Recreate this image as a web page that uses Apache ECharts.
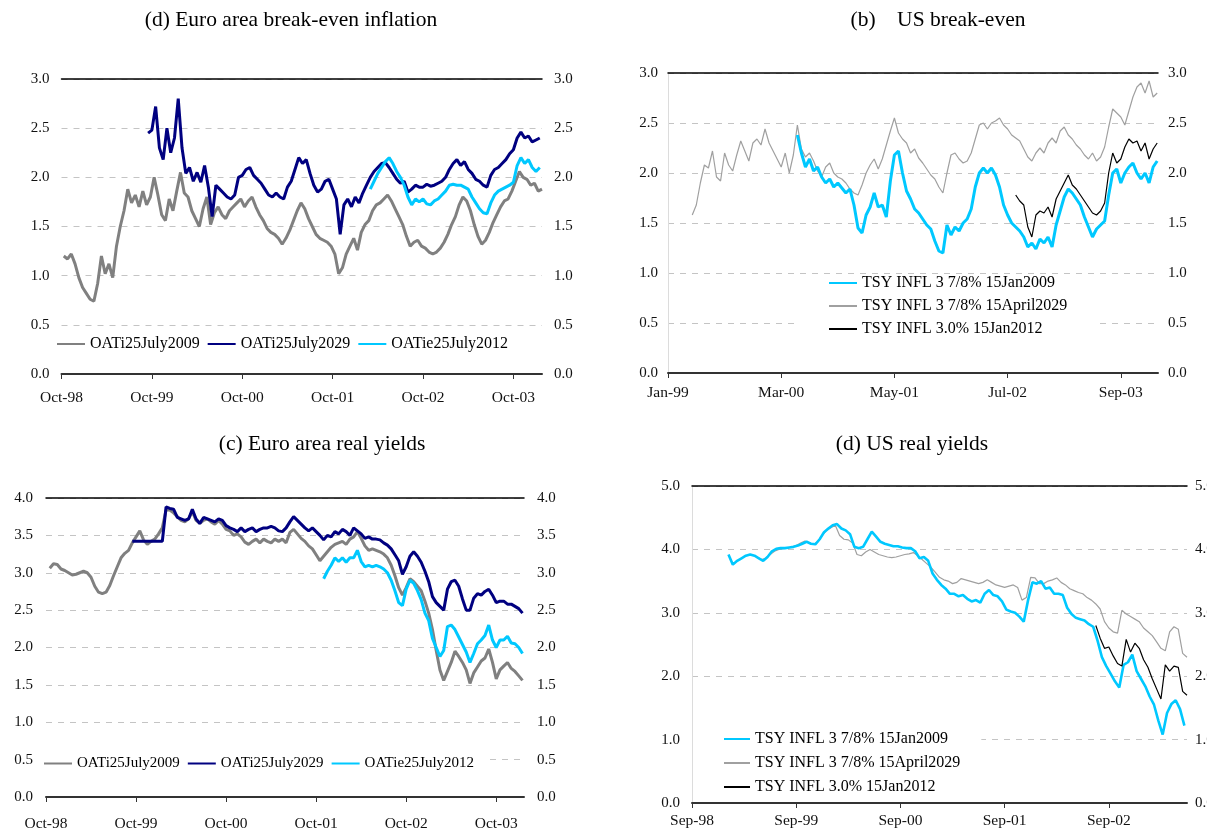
<!DOCTYPE html>
<html>
<head>
<meta charset="utf-8">
<title>Break-even inflation and real yields</title>
<script src="https://cdn.jsdelivr.net/npm/echarts@6/dist/echarts.min.js"></script>
<style>
  html, body { margin: 0; padding: 0; background: #fff; }
  #chart { width: 1207px; height: 836px; }
</style>
</head>
<body>
<div id="chart"></div>
<script>
  // x values are months from each panel's first tick, sampled every half month
  const STEP = 0.5;

  const ticksEuro = ['Oct-98', 'Oct-99', 'Oct-00', 'Oct-01', 'Oct-02', 'Oct-03'];
  const ticksUsBe = ['Jan-99', 'Mar-00', 'May-01', 'Jul-02', 'Sep-03'];
  const ticksUsRy = ['Sep-98', 'Sep-99', 'Sep-00', 'Sep-01', 'Sep-02'];

  const namesEuro = ['OATi25July2009', 'OATi25July2029', 'OATie25July2012'];
  const namesUs = ['TSY INFL 3 7/8% 15Jan2009', 'TSY INFL 3 7/8% 15April2029', 'TSY INFL 3.0% 15Jan2012'];

  // (d) Euro area break-even inflation
  const beOat09Start = 0.3;
  const beOat09 = [1.20, 1.17, 1.22, 1.12, 0.98, 0.88, 0.82, 0.76, 0.74, 0.92, 1.20, 1.02, 1.12, 0.98, 1.30, 1.50,
    1.66, 1.88, 1.74, 1.82, 1.70, 1.86, 1.72, 1.80, 2.00, 1.82, 1.62, 1.56, 1.78, 1.66, 1.86, 2.05, 1.84, 1.80,
    1.66, 1.58, 1.50, 1.68, 1.80, 1.52, 1.64, 1.70, 1.62, 1.58, 1.66, 1.70, 1.74, 1.78, 1.70, 1.76, 1.80, 1.70,
    1.62, 1.56, 1.48, 1.44, 1.42, 1.38, 1.32, 1.38, 1.46, 1.56, 1.66, 1.74, 1.68, 1.58, 1.50, 1.42, 1.38, 1.36,
    1.34, 1.30, 1.22, 1.02, 1.08, 1.22, 1.30, 1.38, 1.26, 1.44, 1.52, 1.56, 1.66, 1.72, 1.74, 1.78, 1.82, 1.76,
    1.68, 1.60, 1.52, 1.40, 1.30, 1.34, 1.36, 1.30, 1.28, 1.24, 1.22, 1.24, 1.28, 1.34, 1.42, 1.52, 1.60, 1.72,
    1.80, 1.76, 1.66, 1.52, 1.40, 1.32, 1.36, 1.44, 1.54, 1.62, 1.70, 1.76, 1.78, 1.86, 1.96, 2.06, 2.00, 1.98,
    1.92, 1.94, 1.86, 1.88];
  const beOat29Start = 11.5;
  const beOat29 = [2.45, 2.48, 2.72, 2.30, 2.18, 2.50, 2.25, 2.40, 2.80, 2.30, 2.04, 2.10, 1.96, 2.05, 1.95, 2.12,
    1.90, 1.60, 1.92, 1.88, 1.84, 1.80, 1.78, 1.82, 2.00, 2.02, 2.08, 2.10, 2.02, 1.98, 1.94, 1.88, 1.82, 1.80,
    1.84, 1.80, 1.78, 1.90, 1.96, 2.08, 2.20, 2.14, 2.18, 2.04, 1.92, 1.85, 1.88, 1.96, 1.98, 1.88, 1.78, 1.42,
    1.72, 1.78, 1.70, 1.80, 1.74, 1.84, 1.92, 2.00, 2.06, 2.10, 2.14, 2.15, 2.10, 2.04, 1.98, 1.94, 1.96, 1.85,
    1.88, 1.92, 1.90, 1.90, 1.93, 1.91, 1.92, 1.94, 1.96, 2.00, 2.08, 2.14, 2.18, 2.12, 2.16, 2.08, 2.04, 1.98,
    1.96, 1.92, 1.90, 2.02, 2.08, 2.10, 2.14, 2.18, 2.24, 2.28, 2.40, 2.46, 2.40, 2.42, 2.36, 2.38, 2.40];
  const beOat12Start = 41.0;
  const beOat12 = [1.88, 1.96, 2.04, 2.10, 2.16, 2.20, 2.14, 2.06, 2.00, 1.92, 1.80, 1.72, 1.78, 1.75, 1.78, 1.73,
    1.72, 1.76, 1.78, 1.82, 1.86, 1.92, 1.93, 1.92, 1.92, 1.90, 1.88, 1.80, 1.74, 1.68, 1.64, 1.63, 1.74, 1.82,
    1.86, 1.88, 1.90, 1.92, 1.95, 2.12, 2.20, 2.14, 2.18, 2.10, 2.06, 2.10];

  // (b) US break-even
  const beTsy29Start = 3.0;
  const beTsy29 = [1.58, 1.68, 1.90, 2.08, 2.05, 2.22, 1.96, 1.92, 2.20, 2.08, 2.02, 2.18, 2.32, 2.22, 2.12, 2.30,
    2.34, 2.28, 2.44, 2.30, 2.22, 2.14, 2.06, 2.20, 2.00, 2.18, 2.48, 2.24, 2.16, 2.20, 2.12, 2.02, 1.96, 2.06,
    2.10, 2.00, 1.96, 1.94, 1.90, 1.84, 1.80, 1.78, 1.88, 2.00, 2.08, 2.14, 2.04, 2.14, 2.28, 2.42, 2.55, 2.40,
    2.34, 2.30, 2.20, 2.24, 2.15, 2.10, 2.04, 1.98, 1.94, 1.86, 1.80, 2.00, 2.18, 2.20, 2.14, 2.10, 2.12, 2.20,
    2.34, 2.48, 2.50, 2.44, 2.50, 2.52, 2.55, 2.48, 2.44, 2.38, 2.35, 2.32, 2.24, 2.16, 2.12, 2.20, 2.25, 2.20,
    2.30, 2.35, 2.30, 2.42, 2.46, 2.38, 2.34, 2.28, 2.24, 2.18, 2.14, 2.20, 2.12, 2.16, 2.26, 2.46, 2.64, 2.60,
    2.56, 2.48, 2.62, 2.76, 2.86, 2.90, 2.80, 2.92, 2.76, 2.80];
  const beTsy09Start = 16.0;
  const beTsy09 = [2.38, 2.20, 2.06, 2.14, 2.02, 2.06, 1.96, 1.90, 1.94, 1.86, 1.90, 1.85, 1.80, 1.84, 1.68, 1.45,
    1.40, 1.58, 1.66, 1.80, 1.66, 1.68, 1.56, 1.92, 2.18, 2.22, 2.00, 1.82, 1.74, 1.64, 1.60, 1.54, 1.48, 1.44,
    1.32, 1.22, 1.20, 1.48, 1.38, 1.46, 1.42, 1.50, 1.54, 1.64, 1.86, 2.00, 2.05, 2.00, 2.05, 1.98, 1.86, 1.68,
    1.58, 1.50, 1.46, 1.42, 1.36, 1.26, 1.30, 1.24, 1.34, 1.30, 1.36, 1.26, 1.48, 1.62, 1.76, 1.84, 1.80, 1.74,
    1.68, 1.56, 1.46, 1.36, 1.44, 1.48, 1.52, 1.78, 2.00, 2.04, 1.90, 2.00, 2.06, 2.10, 2.00, 1.94, 2.00, 1.90,
    2.06, 2.12];
  const beTsy12Start = 43.0;
  const beTsy12 = [1.78, 1.72, 1.68, 1.46, 1.36, 1.58, 1.62, 1.60, 1.66, 1.56, 1.74, 1.82, 1.90, 1.98, 1.88, 1.84,
    1.78, 1.72, 1.66, 1.60, 1.58, 1.62, 1.70, 2.00, 2.20, 2.10, 2.14, 2.26, 2.34, 2.30, 2.32, 2.22, 2.30, 2.14,
    2.24, 2.30];

  // (c) Euro area real yields
  const ryOat09Start = 0.5;
  const ryOat09 = [3.06, 3.12, 3.11, 3.05, 3.03, 3.00, 2.97, 2.98, 3.00, 3.02, 3.00, 2.94, 2.82, 2.74, 2.72, 2.74,
    2.83, 2.96, 3.08, 3.20, 3.26, 3.30, 3.40, 3.48, 3.56, 3.44, 3.38, 3.42, 3.45, 3.52, 3.60, 3.84, 3.84, 3.80,
    3.75, 3.70, 3.68, 3.72, 3.82, 3.70, 3.66, 3.70, 3.72, 3.68, 3.65, 3.70, 3.65, 3.58, 3.56, 3.50, 3.52, 3.48,
    3.41, 3.38, 3.42, 3.45, 3.40, 3.45, 3.42, 3.40, 3.45, 3.42, 3.45, 3.40, 3.54, 3.58, 3.52, 3.46, 3.42, 3.36,
    3.32, 3.24, 3.16, 3.22, 3.28, 3.34, 3.38, 3.40, 3.42, 3.38, 3.45, 3.48, 3.55, 3.46, 3.36, 3.30, 3.32, 3.30,
    3.28, 3.25, 3.20, 3.10, 2.96, 2.80, 2.70, 2.80, 2.92, 2.88, 2.82, 2.76, 2.62, 2.46, 2.24, 1.96, 1.70, 1.56,
    1.68, 1.80, 1.95, 1.88, 1.80, 1.70, 1.52, 1.66, 1.74, 1.82, 1.86, 1.98, 1.80, 1.58, 1.70, 1.75, 1.80, 1.72,
    1.68, 1.62, 1.56];
  const ryOat29Start = 11.5;
  const ryOat29 = [3.42, 3.42, 3.42, 3.42, 3.42, 3.42, 3.42, 3.42, 3.42, 3.88, 3.86, 3.85, 3.74, 3.72, 3.70, 3.72,
    3.85, 3.72, 3.66, 3.74, 3.72, 3.70, 3.68, 3.72, 3.70, 3.63, 3.60, 3.58, 3.55, 3.60, 3.55, 3.58, 3.60, 3.55,
    3.58, 3.60, 3.60, 3.62, 3.60, 3.56, 3.55, 3.60, 3.68, 3.75, 3.70, 3.65, 3.60, 3.56, 3.60, 3.55, 3.50, 3.44,
    3.50, 3.48, 3.55, 3.52, 3.58, 3.55, 3.50, 3.60, 3.56, 3.52, 3.46, 3.48, 3.45, 3.45, 3.44, 3.40, 3.37, 3.32,
    3.24, 3.16, 2.98, 3.08, 3.22, 3.28, 3.22, 3.14, 3.02, 2.88, 2.68, 2.60, 2.55, 2.50, 2.78, 2.88, 2.90, 2.82,
    2.65, 2.50, 2.50, 2.66, 2.72, 2.70, 2.75, 2.78, 2.70, 2.60, 2.62, 2.62, 2.58, 2.58, 2.55, 2.52, 2.46];
  const ryOat12Start = 37.0;
  const ryOat12 = [2.92, 3.02, 3.10, 3.20, 3.15, 3.20, 3.14, 3.20, 3.20, 3.30, 3.15, 3.08, 3.10, 3.08, 3.10, 3.08,
    3.05, 3.00, 2.90, 2.76, 2.60, 2.56, 2.78, 2.90, 2.86, 2.76, 2.64, 2.46, 2.36, 2.12, 2.00, 1.88, 1.96, 2.28,
    2.30, 2.24, 2.14, 2.04, 1.94, 1.80, 1.92, 2.05, 2.10, 2.16, 2.30, 2.10, 2.00, 2.10, 2.10, 2.15, 2.06, 2.05,
    2.00, 1.92];

  // (d) US real yields
  const ryTsy29Start = 7.5;
  const ryTsy29 = [3.88, 3.84, 3.86, 3.92, 3.97, 4.00, 4.01, 4.02, 4.04, 4.06, 4.10, 4.13, 4.10, 4.08, 4.12, 4.22,
    4.30, 4.34, 4.38, 4.22, 4.16, 4.15, 4.10, 3.92, 3.90, 3.96, 4.00, 3.96, 3.92, 3.90, 3.88, 3.87, 3.88, 3.90,
    3.92, 3.93, 3.95, 3.90, 3.84, 3.78, 3.72, 3.64, 3.56, 3.52, 3.50, 3.46, 3.48, 3.54, 3.52, 3.50, 3.48, 3.46,
    3.48, 3.52, 3.48, 3.44, 3.42, 3.40, 3.42, 3.44, 3.40, 3.20, 3.24, 3.56, 3.55, 3.46, 3.46, 3.50, 3.52, 3.55,
    3.48, 3.44, 3.38, 3.35, 3.32, 3.30, 3.24, 3.20, 3.14, 3.06, 2.86, 2.76, 2.70, 2.68, 3.04, 2.98, 2.94, 2.90,
    2.86, 2.76, 2.70, 2.64, 2.54, 2.44, 2.40, 2.70, 2.78, 2.74, 2.36, 2.30];
  const ryTsy09Start = 4.2;
  const ryTsy09 = [3.92, 3.76, 3.82, 3.86, 3.90, 3.92, 3.90, 3.86, 3.82, 3.88, 3.97, 4.01, 4.02, 4.02, 4.03, 4.04,
    4.06, 4.09, 4.12, 4.09, 4.08, 4.16, 4.27, 4.33, 4.38, 4.40, 4.33, 4.30, 4.24, 4.04, 4.02, 4.04, 4.16, 4.28,
    4.20, 4.12, 4.09, 4.07, 4.05, 4.05, 4.03, 4.02, 4.02, 3.97, 3.86, 3.88, 3.82, 3.62, 3.52, 3.44, 3.38, 3.30,
    3.30, 3.26, 3.28, 3.22, 3.18, 3.20, 3.16, 3.30, 3.36, 3.28, 3.26, 3.18, 3.05, 3.02, 3.00, 2.94, 2.86, 3.20,
    3.48, 3.46, 3.50, 3.38, 3.40, 3.30, 3.30, 3.28, 3.08, 2.98, 2.92, 2.90, 2.88, 2.82, 2.78, 2.56, 2.30, 2.16,
    2.04, 1.92, 1.82, 2.18, 2.22, 2.34, 2.08, 1.96, 1.84, 1.68, 1.55, 1.30, 1.08, 1.42, 1.56, 1.62, 1.48, 1.22];
  const ryTsy12Start = 46.5;
  const ryTsy12 = [2.80, 2.60, 2.44, 2.46, 2.32, 2.20, 2.16, 2.58, 2.38, 2.52, 2.44, 2.26, 2.14, 1.96, 1.80, 1.64,
    2.18, 2.08, 2.16, 2.14, 1.76, 1.70];

  const FONT = 'Liberation Serif';
  const GRAY = '#808080';
  const NAVY = '#000080';
  const CYAN = '#00c8ff';
  const LIGHT = '#a0a0a0';

  function pts(start, values) {
    return values.map((v, i) => [start + i * STEP, v]);
  }

  const grids = [
    { left: 61.5, top: 79, width: 480.5, height: 295 },
    { left: 668, top: 73, width: 490, height: 300 },
    { left: 46, top: 498, width: 478, height: 299 },
    { left: 692, top: 486, width: 495, height: 317 },
  ].map(g => Object.assign(g, { outerBoundsMode: 'none', containLabel: false }));

  const panels = [
    { ticks: ticksEuro, every: 12, max: 63.8, ymax: 3, yint: 0.5, labelMargin: 16, border: false, ymargin: [12, 12] },
    { ticks: ticksUsBe, every: 14, max: 60.6, ymax: 3, yint: 0.5, labelMargin: 12, border: true, ymargin: [10, 10] },
    { ticks: ticksEuro, every: 12, max: 63.7, ymax: 4, yint: 0.5, labelMargin: 19, border: false, ymargin: [13, 13] },
    { ticks: ticksUsRy, every: 12, max: 57.0, ymax: 5, yint: 1, labelMargin: 10, border: true, ymargin: [12, 8] },
  ];

  const xAxes = [];
  const yAxes = [];
  panels.forEach((p, i) => {
    const tickVals = p.ticks.map((t, k) => k * p.every);
    xAxes.push({
      type: 'value', gridIndex: i, min: 0, max: p.max, position: 'bottom',
      axisLine: { show: true, onZero: false, lineStyle: { color: '#333', width: 2 } },
      axisTick: { show: true, customValues: tickVals, length: 5, lineStyle: { color: '#333', width: 1 } },
      axisLabel: {
        customValues: tickVals, margin: p.labelMargin, color: '#111', fontFamily: FONT, fontSize: 15.5,
        formatter: v => p.ticks[Math.round(v / p.every)] || '',
      },
      splitLine: { show: false },
    });
    xAxes.push({
      type: 'value', gridIndex: i, min: 0, max: p.max, position: 'top',
      axisLine: { show: true, onZero: false, lineStyle: { color: '#000', width: 1.5 } },
      axisTick: { show: false }, axisLabel: { show: false }, splitLine: { show: false },
    });
    ['left', 'right'].forEach((side, s) => {
      yAxes.push({
        type: 'value', gridIndex: i, min: 0, max: p.ymax, interval: p.yint, position: side,
        axisLine: { show: p.border, lineStyle: { color: '#dcdcdc', width: 1 } },
        axisTick: { show: false },
        axisLabel: {
          margin: p.ymargin[s], color: '#111', fontFamily: FONT, fontSize: 15, formatter: v => v.toFixed(1),
        },
        splitLine: side === 'left'
          ? { show: true, lineStyle: { color: '#c4c4c4', width: 1, type: [6, 6] } }
          : { show: false },
      });
    });
  });

  function line(name, panel, start, values, color, width) {
    return {
      name, type: 'line', xAxisIndex: panel * 2, yAxisIndex: panel * 2,
      data: pts(start, values), symbol: 'none', smooth: false,
      lineStyle: { color, width }, itemStyle: { color }, emphasis: { disabled: true },
    };
  }

  const series = [
    line(namesEuro[0], 0, beOat09Start, beOat09, GRAY, 3),
    line(namesEuro[1], 0, beOat29Start, beOat29, NAVY, 3),
    line(namesEuro[2], 0, beOat12Start, beOat12, CYAN, 3),
    line(namesUs[1], 1, beTsy29Start, beTsy29, LIGHT, 1.2),
    line(namesUs[2], 1, beTsy12Start, beTsy12, '#000', 1.2),
    line(namesUs[0], 1, beTsy09Start, beTsy09, CYAN, 3),
    line(namesEuro[0], 2, ryOat09Start, ryOat09, GRAY, 3),
    line(namesEuro[1], 2, ryOat29Start, ryOat29, NAVY, 3),
    line(namesEuro[2], 2, ryOat12Start, ryOat12, CYAN, 3),
    line(namesUs[1], 3, ryTsy29Start, ryTsy29, LIGHT, 1.2),
    line(namesUs[0], 3, ryTsy09Start, ryTsy09, CYAN, 2.6),
    line(namesUs[2], 3, ryTsy12Start, ryTsy12, '#000', 1.2),
  ];

  const titleStyle = { fontFamily: FONT, fontSize: 21.5, fontWeight: 'normal', color: '#000' };
  const legendText = size => ({ fontFamily: FONT, fontSize: size, color: '#000' });
  // hide the marker dot that line series put in the middle of their legend icon
  const noDot = { color: 'rgba(0,0,0,0)', borderWidth: 0, opacity: 0 };

  const option = {
    animation: false,
    backgroundColor: '#fff',
    title: [
      { text: '(d) Euro area break-even inflation', left: 286, top: 4, textAlign: 'center', textStyle: titleStyle },
      { text: '(b)    US break-even', left: 933, top: 4, textAlign: 'center', textStyle: titleStyle },
      { text: '(c) Euro area real yields', left: 317, top: 428, textAlign: 'center', textStyle: titleStyle },
      { text: '(d) US real yields', left: 907, top: 428, textAlign: 'center', textStyle: titleStyle },
    ],
    legend: [
      {
        data: namesEuro, left: 53, top: 334, padding: [2, 3, 2, 3], itemGap: 7, itemWidth: 28, itemHeight: 14,
        selectedMode: false, itemStyle: noDot, textStyle: legendText(16),
      },
      {
        data: namesUs, orient: 'vertical', left: 798, top: 274, padding: [1, 30, 3, 30], itemGap: 7,
        itemWidth: 28, itemHeight: 14, backgroundColor: '#fff', selectedMode: false, itemStyle: noDot,
        textStyle: legendText(16),
      },
      {
        data: namesEuro, left: 40, top: 754, padding: [2, 12, 2, 3], itemGap: 7, itemWidth: 28, itemHeight: 14,
        backgroundColor: '#fff', selectedMode: false, itemStyle: noDot, textStyle: legendText(15),
      },
      {
        data: namesUs, orient: 'vertical', left: 693, top: 729, padding: [2, 21, 1, 30], itemGap: 8,
        itemWidth: 26, itemHeight: 14, backgroundColor: '#fff', selectedMode: false, itemStyle: noDot,
        textStyle: legendText(16),
      },
    ],
    grid: grids,
    xAxis: xAxes,
    yAxis: yAxes,
    series,
  };

  const chart = echarts.init(document.getElementById('chart'));
  chart.setOption(option);
  window.addEventListener('resize', () => chart.resize());
</script>
</body>
</html>
